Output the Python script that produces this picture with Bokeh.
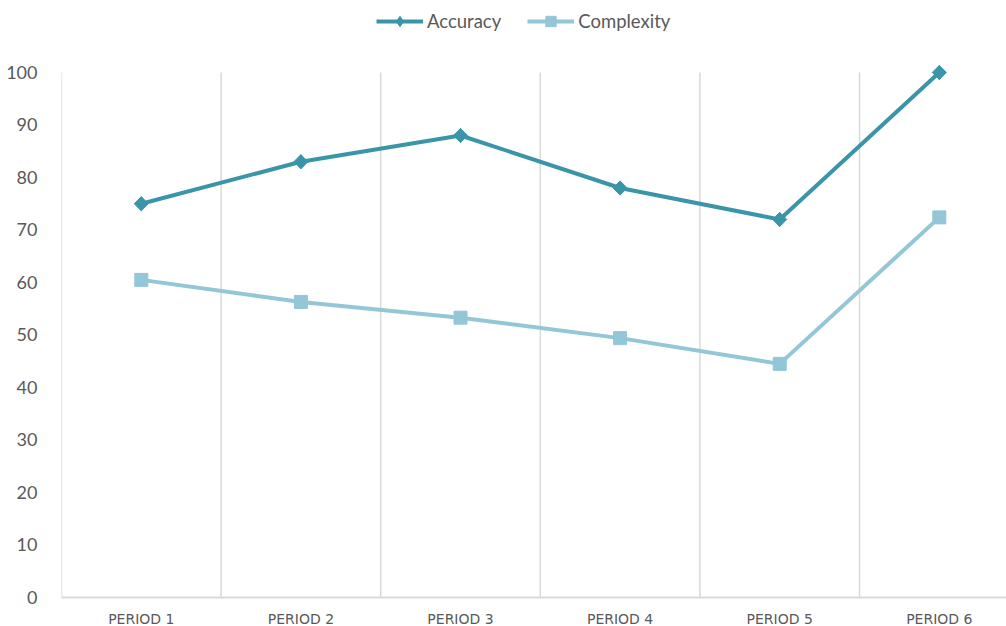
import math
from bokeh.plotting import figure
from bokeh.models import FixedTicker, Range1d, Legend, LegendItem
from bokeh.embed import file_html
from bokeh.resources import INLINE

categories = ["PERIOD 1", "PERIOD 2", "PERIOD 3", "PERIOD 4", "PERIOD 5", "PERIOD 6"]
accuracy = [75, 83, 88, 78, 72, 100]
complexity = [60.5, 56.3, 53.3, 49.4, 44.5, 72.4]
y_ticks = list(range(0, 101, 10))

xs = list(range(1, len(categories) + 1))
boundaries = [x - 0.5 for x in xs]
ACC_COLOR = "#3b95a9"
CPX_COLOR = "#93c6d6"
TEXT_COLOR = "#595959"
GRID_COLOR = "#d9d9d9"

p = figure(
    frame_width=945, frame_height=597,
    min_border_left=61, min_border_right=0, min_border_top=0, min_border_bottom=29,
    output_backend="svg", toolbar_location=None,
    x_range=Range1d(0.5, 6.421), y_range=Range1d(0, 113.71),
)
p.outline_line_color = None

# y axis
p.yaxis.ticker = FixedTicker(ticks=y_ticks)
p.yaxis.axis_line_color = None
p.yaxis.major_tick_line_color = None
p.yaxis.minor_tick_line_color = None
p.yaxis.major_label_standoff = 18
p.yaxis.major_label_text_font = "Lato"
p.yaxis.major_label_text_font_size = "18px"
p.yaxis.major_label_text_color = TEXT_COLOR

# x axis
p.xaxis.ticker = FixedTicker(ticks=xs)
p.xaxis.major_label_overrides = {x: c for x, c in zip(xs, categories)}
p.xaxis.axis_line_color = GRID_COLOR
p.xaxis.axis_line_width = 2
p.xaxis.major_tick_line_color = None
p.xaxis.minor_tick_line_color = None
p.xaxis.major_label_standoff = 7
p.xaxis.major_label_text_font = "DejaVu Sans"
p.xaxis.major_label_text_font_size = "14px"
p.xaxis.major_label_text_color = TEXT_COLOR

# grids: vertical separators between categories, from 0 to 100
p.ygrid.grid_line_color = None
p.xgrid.grid_line_color = None
p.segment(x0=boundaries, y0=[y_ticks[0]] * len(boundaries),
          x1=boundaries, y1=[y_ticks[-1]] * len(boundaries),
          line_color=GRID_COLOR, line_width=1.5)

# series
l1 = p.line(xs, accuracy, line_color=ACC_COLOR, line_width=4)
# diamond drawn under the rotated squares (used as the legend swatch)
m1_leg = p.scatter(xs, accuracy, marker="diamond", size=14,
                   fill_color=ACC_COLOR, line_color=ACC_COLOR)
m1 = p.scatter(xs, accuracy, marker="square", angle=math.pi / 4, size=10,
               fill_color=ACC_COLOR, line_color=ACC_COLOR)
l2 = p.line(xs, complexity, line_color=CPX_COLOR, line_width=4)
m2 = p.scatter(xs, complexity, marker="square", size=13,
               fill_color=CPX_COLOR, line_color=CPX_COLOR)

legend = Legend(
    items=[LegendItem(label="Accuracy", renderers=[l1, m1_leg]),
           LegendItem(label="Complexity", renderers=[l2, m2])],
    orientation="horizontal", location=(315, 563),
    glyph_width=47, glyph_height=26, label_standoff=4, spacing=26,
    padding=4, margin=0,
    label_text_font="Lato", label_text_font_size="18.5px", label_text_color=TEXT_COLOR,
    background_fill_alpha=0, border_line_color=None,
)
p.add_layout(legend, "center")

open("out.html", "w").write(file_html(p, INLINE))
